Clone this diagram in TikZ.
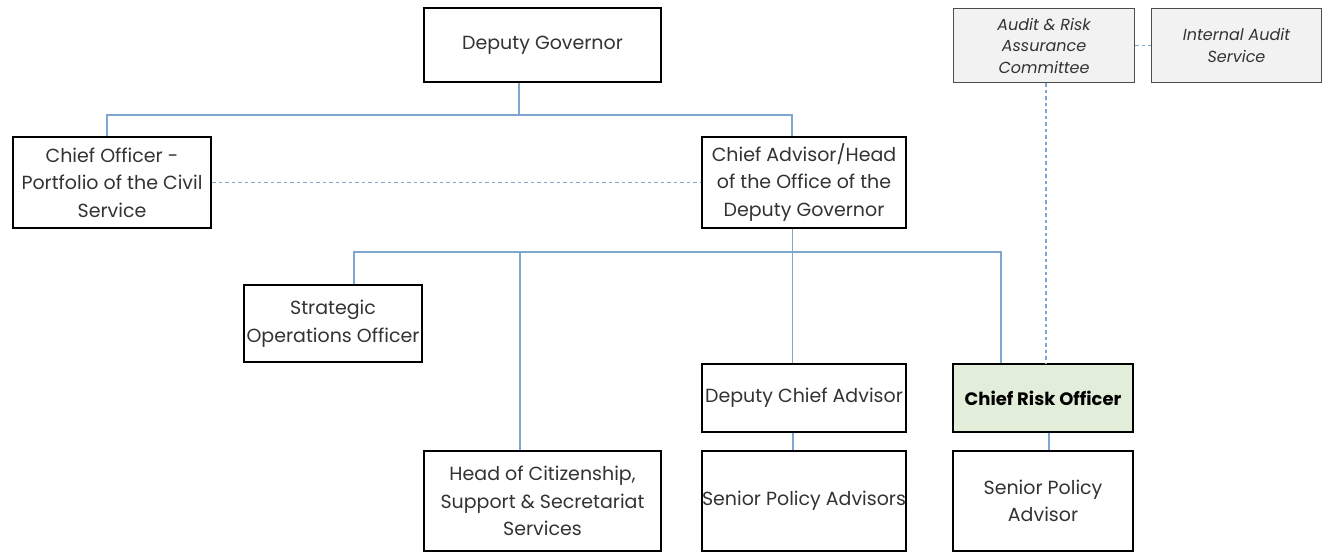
\documentclass[tikz,border=0pt]{standalone}
\usepackage{fontspec}
\setmainfont{Poppins}
\definecolor{linkblue}{HTML}{7FA6CC}
\definecolor{riskgreen}{HTML}{E2EED9}
\definecolor{auditgray}{HTML}{F2F2F2}
\definecolor{txtgray}{HTML}{333333}

\tikzset{
  post/.style={draw=black,line width=2.6pt,fill=white,align=center,text=txtgray,
    font=\fontsize{19}{27.5}\selectfont,inner sep=0pt},
  panel/.style={draw=black!70,line width=1.2pt,fill=auditgray,align=center,text=txtgray,
    font=\fontsize{16}{21.5}\selectfont\itshape,inner sep=0pt},
  link/.style={draw=linkblue,line width=1.3pt},
  dotlink/.style={link,dash pattern=on 3.5pt off 3pt}
}

\begin{document}
\begin{tikzpicture}[x=1pt,y=-1pt,line cap=butt,line join=miter]
        \useasboundingbox (0,0) rectangle (1332,554);
        % top levels
        \node[post,minimum width=237,minimum height=74] (dg) at (542.5,45) {Deputy Governor};
        \node[post,minimum width=198,minimum height=91] (co) at (112,182.5) {Chief Officer -\\Portfolio of the Civil\\Service};
        \node[post,minimum width=204,minimum height=91] (ca) at (804,182.5) {Chief Advisor/Head\\of the Office of the\\Deputy Governor};
        % office staff
        \node[post,minimum width=178,minimum height=77] (so) at (333,323.5) {Strategic\\Operations Officer};
        \node[post,minimum width=237,minimum height=100] (hc) at (542.5,501) {Head of Citizenship,\\Support \& Secretariat\\Services};
        \node[post,minimum width=204,minimum height=68] (dca) at (804,398) {Deputy Chief Advisor};
        \node[post,minimum width=204,minimum height=100] (spa) at (804,501) {Senior Policy Advisors};
        \node[post,fill=riskgreen,minimum width=180,minimum height=68] (cro) at (1043,398) {\fontsize{18}{27.5}\selectfont\textcolor{black}{\textbf{Chief Risk Officer}}};
        \node[post,minimum width=180,minimum height=100] (spb) at (1043,501) {Senior Policy\\Advisor};
        % audit side
        \node[panel,minimum width=181,minimum height=74] (arac) at (1044,45.5) {Audit \& Risk\\Assurance\\Committee};
        \node[panel,minimum width=170,minimum height=74] (ias) at (1236.5,45.5) {Internal Audit\\Service};

        \coordinate (topbus) at (0,115);
        \coordinate (lowbus) at (0,252);
        \coordinate (dgout) at ([xshift=-23.5]dg.south);
        \coordinate (coin) at ([xshift=-5]co.north);
        \coordinate (cain) at ([xshift=-12]ca.north);
        \coordinate (caout) at ([xshift=-11.5]ca.south);
        \coordinate (soin) at ([xshift=21]so.north);
        \coordinate (hcin) at ([xshift=-22.5]hc.north);
        \coordinate (dcain) at ([xshift=-11.5]dca.north);
        \coordinate (croin) at ([xshift=-42]cro.north);

        \draw[link] (dgout) -- (dgout |- topbus);
        \draw[link] (coin) -- (coin |- topbus) -- (cain |- topbus) -- (cain);
        \draw[link] (caout) -- (dcain);
        \draw[link] (soin) -- (soin |- lowbus) -- (croin |- lowbus) -- (croin);
        \draw[link] (hcin |- lowbus) -- (hcin);
        \draw[link] ([xshift=-11]dca.south) -- ([xshift=-11]spa.north);
        \draw[link] ([xshift=6]cro.south) -- ([xshift=6]spb.north);
        \draw[dotlink] (co.east) -- (ca.west);
        \draw[dotlink] (arac.east) -- (ias.west);
        \draw[dotlink] ([xshift=2]arac.south) -- ([xshift=2]arac.south |- cro.north);
    \end{tikzpicture}
\end{document}
